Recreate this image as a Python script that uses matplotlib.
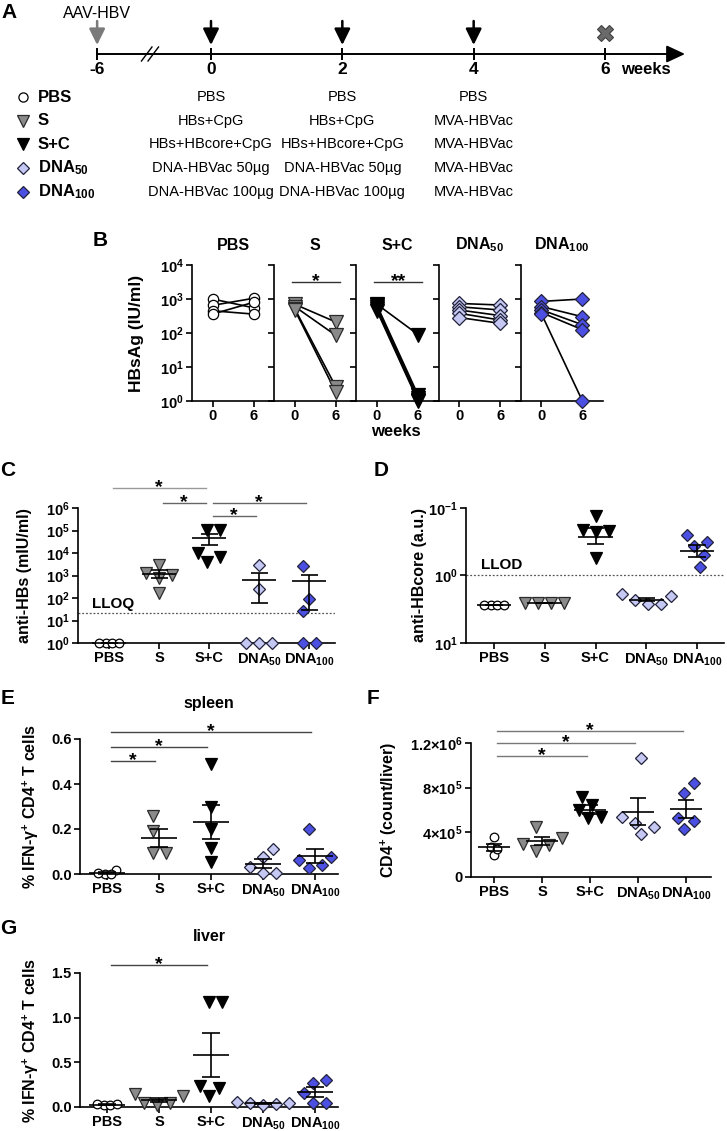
import numpy as np
import matplotlib
matplotlib.use('Agg')
import matplotlib.pyplot as plt
import matplotlib.transforms as mtransforms

W, H = 727, 1131

plt.rcParams['font.family'] = ['Liberation Sans', 'DejaVu Sans']
plt.rcParams['font.weight'] = 'bold'
plt.rcParams['axes.labelweight'] = 'bold'
plt.rcParams['mathtext.fontset'] = 'custom'
plt.rcParams['mathtext.rm'] = 'Liberation Sans'
plt.rcParams['mathtext.bf'] = 'Liberation Sans:bold'
plt.rcParams['mathtext.it'] = 'Liberation Sans:italic'
plt.rcParams['mathtext.default'] = 'bf'

# ---------------- data ----------------
groups = ['PBS', 'S', 'S+C', 'DNA50', 'DNA100']
group_labels = ['PBS', 'S', 'S+C', r'DNA$_{\mathrm{50}}$', r'DNA$_{\mathrm{100}}$']
legend_labels = ['PBS', 'S', 'S+C', r'DNA$_{50}$', r'DNA$_{100}$']

# panel A: schedule
timeline_weeks = [-6, 0, 2, 4, 6]
aav_week = -6
boost_weeks = [0, 2, 4]
end_week = 6
sched_week0 = ['PBS', 'HBs+CpG', 'HBs+HBcore+CpG', 'DNA-HBVac 50µg', 'DNA-HBVac 100µg']
sched_week2 = ['PBS', 'HBs+CpG', 'HBs+HBcore+CpG', 'DNA-HBVac 50µg', 'DNA-HBVac 100µg']
sched_week4 = ['PBS', 'MVA-HBVac', 'MVA-HBVac', 'MVA-HBVac', 'MVA-HBVac']

# panel B: HBsAg (IU/ml), week 0 and week 6, per mouse
hbsag_weeks = [0, 6]
hbsag_w0 = [[1000, 650, 450, 360],
            [700, 600, 520, 480],
            [700, 650, 600, 500, 450],
            [740, 590, 475, 380, 285],
            [850, 600, 480, 400, 370]]
hbsag_w6 = [[550, 1050, 360, 800],
            [210, 85, 2.6, 1.8],
            [90, 1.5, 1.2, 1.1, 1.0],
            [665, 475, 325, 240, 192],
            [1000, 300, 175, 125, 1.0]]

# panel C: anti-HBs (mIU/ml)
anti_hbs = [[1, 1, 1, 1],
            [1050, 2900, 1250, 740, 160],
            [110000, 105000, 9700, 6900, 4100],
            [3000, 250, 1, 1, 1],
            [2700, 89, 27, 1, 1]]
lloq = 22

# panel D: anti-HBcore (a.u.)
anti_hbcore = [[2.7, 2.7, 2.7, 2.7],
               [2.55, 2.55, 2.55, 2.55],
               [0.13, 0.21, 0.23, 0.22, 0.55],
               [2.6, 1.9, 2.0, 2.6, 2.3],
               [0.25, 0.37, 0.32, 0.50, 0.76]]
llod = 1.0

# panel E: % IFN-g+ CD4+ T cells, spleen
ifn_spleen = [[0.0, 0.018, 0.005, 0.0],
              [0.256, 0.19, 0.092, 0.095],
              [0.49, 0.30, 0.20, 0.115, 0.055],
              [0.111, 0.077, 0.033, 0.003, 0.006],
              [0.20, 0.077, 0.025, 0.04, 0.062]]

# panel F: CD4+ count per liver
cd4_liver = [[200000, 265000, 355000, 250000],
             [345000, 450000, 235000, 300000, 290000],
             [718000, 645000, 600000, 525000, 534000],
             [1063000, 539000, 486000, 450000, 385000],
             [839000, 750000, 525000, 504000, 427000]]

# panel G: % IFN-g+ CD4+ T cells, liver
ifn_liver = [[0.02, 0.03, 0.025, 0.03],
             [0.15, 0.12, 0.05, 0.02, 0.04],
             [1.18, 1.18, 0.23, 0.21, 0.12],
             [0.06, 0.05, 0.04, 0.03, 0.02],
             [0.306, 0.269, 0.157, 0.045, 0.045]]

# significance pairs (group index pairs)
sig_c = [(0, 2), (1, 2), (2, 4), (2, 3)]
sig_e = [(0, 1), (0, 2), (0, 4)]
sig_f = [(0, 2), (0, 3), (0, 4)]
sig_g = [(0, 2)]

# ---------------- styles ----------------
markers = ['o', 'v', 'v', 'D', 'D']
faces = ['white', '#8a8a8a', 'black', '#c5c8f3', '#4c50e2']
edges = ['black', '#2b2b2b', 'black', '#22223a', '#22223a']
msz = [6.2, 8.2, 8.2, 6.0, 6.0]
steps = [6.5, 13, 13, 13, 13]

fig = plt.figure(figsize=(W / 100, H / 100), dpi=100)


def px_axes(l, t, r, b):
    return fig.add_axes([l / W, 1 - b / H, (r - l) / W, (b - t) / H])


def style_axes(ax):
    for s in ['top', 'right']:
        ax.spines[s].set_visible(False)
    for s in ['left', 'bottom']:
        ax.spines[s].set_linewidth(1.2)
    ax.tick_params(direction='out', length=4, width=1.2, labelsize=10.5, pad=2)


def swarm_x(ax, x0, vals, step):
    # greedy beeswarm in pixel space, then centred on the category
    vals = np.asarray(vals, float)
    ys = ax.transData.transform(np.column_stack([np.full(len(vals), x0), vals]))[:, 1]
    cand = [0.0]
    for k in range(1, 40):
        cand += [k * step / 4, -k * step / 4]
    off = np.zeros(len(vals))
    placed = []
    for k in np.argsort(ys):
        for c in cand:
            if all((c - px) ** 2 + (ys[k] - py) ** 2 >= (0.95 * step) ** 2 for px, py in placed):
                off[k] = c
                break
        placed.append((off[k], ys[k]))
    off -= (off.max() + off.min()) / 2
    scale = ax.transData.transform((1, 1))[0] - ax.transData.transform((0, 1))[0]
    return x0 + off / scale


def dot_panel(ax, data):
    for i, vals in enumerate(data):
        xs = swarm_x(ax, i, vals, steps[i])
        ax.plot(xs, vals, ls='none', marker=markers[i], ms=msz[i], mfc=faces[i],
                mec=edges[i], mew=0.9, clip_on=False, zorder=3)
        m = np.mean(vals)
        se = np.std(vals, ddof=1) / np.sqrt(len(vals))
        kw = dict(color='black', lw=1.2, zorder=4, clip_on=False, solid_capstyle='butt')
        ax.plot([i - 0.34, i + 0.34], [m, m], **kw)
        lo = m - se if m - se > 0 or ax.get_yscale() == 'linear' else m
        ax.plot([i, i], [lo, m + se], **kw)
        ax.plot([i - 0.17, i + 0.17], [m + se, m + se], **kw)
        ax.plot([i - 0.17, i + 0.17], [lo, lo], **kw)
    ax.set_xticks(range(len(data)), group_labels)


def sig_bar(ax, i, j, level, color='#555555', inset=0.07):
    trans = mtransforms.blended_transform_factory(ax.transData, ax.transAxes)
    ax.plot([i + inset, j - inset], [level, level], color=color, lw=1.0,
            transform=trans, clip_on=False)
    ax.text((i + j) / 2, level, '*', transform=trans, ha='center', va='center',
            fontsize=14, fontweight='bold', clip_on=False)


def log_labels(ax, exps):
    ticks = [10.0 ** e for e in exps]
    labels = ['10$^{%d}$' % e for e in exps]
    ax.set_yticks(ticks, labels)
    ax.minorticks_off()


# ---------------- panel A ----------------
ax_a = px_axes(0, 0, W, 275)
ax_a.set_axis_off()
ppw = (605 - 211) / 6.0
ax_a.set_xlim(-211 / ppw, (W - 211) / ppw)
ax_a.set_ylim(275, 0)


def tl(w):
    # broken time axis: the weeks before 0 are compressed
    return w if w >= 0 else w * 0.289


def wx(px):
    return (px - 211) / ppw


ax_a.annotate('', xy=(wx(685), 54), xytext=(tl(-6), 54),
              arrowprops=dict(arrowstyle='-|>,head_length=0.75,head_width=0.35', color='black',
                              lw=1.4, mutation_scale=15, shrinkA=0, shrinkB=0))
ax_a.vlines([tl(w) for w in timeline_weeks], 48, 60, color='black', lw=1.4)
xb = wx(150)
for d in (-0.05, 0.05):
    ax_a.plot([xb + d - 0.08, xb + d + 0.08], [61, 47], color='black', lw=1.0)
for w in timeline_weeks:
    ax_a.text(tl(w), 70, str(w), ha='center', va='center', fontsize=12.5, fontweight='bold')
ax_a.text(wx(646), 70, 'weeks', ha='center', va='center', fontsize=12, fontweight='bold')
ax_a.text(tl(aav_week), 14, 'AAV-HBV', ha='center', va='center', fontsize=11.5,
          fontweight='normal')
ax_a.annotate('', xy=(tl(aav_week), 45), xytext=(tl(aav_week), 21),
              arrowprops=dict(arrowstyle='-|>,head_length=0.65,head_width=0.32', color='#7a7a7a',
                              lw=1.8, mutation_scale=15, shrinkA=0, shrinkB=0))
for w in boost_weeks:
    ax_a.annotate('', xy=(tl(w), 45), xytext=(tl(w), 21),
                  arrowprops=dict(arrowstyle='-|>,head_length=0.65,head_width=0.32', color='black',
                                  lw=1.8, mutation_scale=15, shrinkA=0, shrinkB=0))
ax_a.plot(tl(end_week), 33, marker='X', ms=11, mfc='#6a6a6a', mec='#404040', mew=0.8)

row_y = [97 + 23.7 * k for k in range(5)]
for k in range(5):
    ax_a.plot(wx(23), row_y[k], ls='none', marker=markers[k], ms=msz[k] + 0.4,
              mfc=faces[k], mec=edges[k], mew=0.9)
    ax_a.text(wx(38), row_y[k], legend_labels[k], ha='left', va='center', fontsize=12,
              fontweight='bold')
    for w, col in zip(boost_weeks, [sched_week0, sched_week2, sched_week4]):
        ax_a.text(tl(w), row_y[k], col[k], ha='center', va='center', fontsize=10.5,
                  fontweight='normal')

# ---------------- panel B ----------------
bw = 82.2
for i in range(5):
    l = 192 + i * bw
    ax = px_axes(l, 265, l + bw, 401)
    style_axes(ax)
    ax.set_yscale('log')
    ax.set_ylim(1, 1e4)
    ax.set_xlim(-3, 9)
    for a, b in zip(hbsag_w0[i], hbsag_w6[i]):
        ax.plot(hbsag_weeks, [a, b], color='black', lw=1.2, zorder=2, clip_on=False)
    for w, vals in zip(hbsag_weeks, [hbsag_w0[i], hbsag_w6[i]]):
        ax.plot([w] * len(vals), vals, ls='none', marker=markers[i], ms=msz[i] + 1.2,
                mfc=faces[i], mec=edges[i], mew=0.9, clip_on=False, zorder=3)
    log_labels(ax, range(0, 5))
    if i > 0:
        ax.tick_params(axis='y', labelleft=False)
    else:
        ax.set_ylabel('HBsAg (IU/ml)', fontsize=12.5)
        ax.yaxis.set_label_coords(-0.58, 0.5)
    ax.set_xticks(hbsag_weeks, [str(w) for w in hbsag_weeks])
    ax.text(0.5, 1.147, legend_labels[i], transform=ax.transAxes, ha='center',
            va='center', fontsize=11.5)
    if groups[i] in ('S', 'S+C'):
        ax.plot([-0.4, 6.6], [3200, 3200], color='#333333', lw=1.0)
        ax.text(3.1, 3200, '*' if groups[i] == 'S' else '**', ha='center', va='center',
                fontsize=14)
fig.text(396 / W, 1 - 432 / H, 'weeks', ha='center', va='center', fontsize=12)

# ---------------- panel C ----------------
ax = px_axes(78, 508, 335, 643)
style_axes(ax)
ax.set_yscale('log')
ax.set_ylim(1, 1e6)
ax.set_xlim(-0.62, 4.52)
log_labels(ax, range(0, 7))
ax.axhline(lloq, color='#555555', lw=0.9, ls=(0, (1.5, 1.5)), zorder=1)
ax.text(0.054, lloq * 1.25, 'LLOQ', transform=mtransforms.blended_transform_factory(
    ax.transAxes, ax.transData), ha='left', va='bottom', fontsize=11)
dot_panel(ax, anti_hbs)
ax.set_ylabel('anti-HBs (mIU/ml)', fontsize=11.5)
ax.yaxis.set_label_coords(-0.18, 0.5)
for (i, j), lev, c in zip(sig_c, [1.148, 1.037, 1.037, 0.941],
                          ['#999999', '#666666', '#666666', '#666666']):
    sig_bar(ax, i, j, lev, c)

# ---------------- panel D ----------------
ax = px_axes(466, 508, 724, 643)
style_axes(ax)
ax.set_yscale('log')
ax.set_ylim(10, 0.1)
ax.set_xlim(-0.55, 4.53)
log_labels(ax, [-1, 0, 1])
ax.axhline(llod, color='#555555', lw=0.9, ls=(0, (1.5, 1.5)), zorder=1)
ax.text(0.06, llod * 0.9, 'LLOD', transform=mtransforms.blended_transform_factory(
    ax.transAxes, ax.transData), ha='left', va='bottom', fontsize=11)
dot_panel(ax, anti_hbcore)
ax.set_ylabel('anti-HBcore (a.u.)', fontsize=11.5)
ax.yaxis.set_label_coords(-0.15, 0.5)

# ---------------- panel E ----------------
ax = px_axes(80, 739, 338, 874)
style_axes(ax)
ax.set_ylim(0, 0.6)
ax.set_xlim(-0.52, 4.44)
ax.set_yticks([0, 0.2, 0.4, 0.6], ['0.0', '0.2', '0.4', '0.6'])
dot_panel(ax, ifn_spleen)
ax.set_ylabel('% IFN-γ$^{+}$ CD4$^{+}$ T cells', fontsize=11.5)
ax.yaxis.set_label_coords(-0.15, 0.5)
ax.text(0.5, 1.26, 'spleen', transform=ax.transAxes, ha='center', va='center', fontsize=11.5)
for (i, j), lev in zip(sig_e, [0.837, 0.941, 1.052]):
    sig_bar(ax, i, j, lev, '#444444')

# ---------------- panel F ----------------
ax = px_axes(471, 743, 711, 877)
style_axes(ax)
ax.set_ylim(0, 1.2e6)
ax.set_xlim(-0.48, 4.52)
ax.set_yticks([0, 4e5, 8e5, 1.2e6], ['0', '4×10$^{5}$', '8×10$^{5}$', '1.2×10$^{6}$'])
dot_panel(ax, cd4_liver)
ax.set_ylabel('CD4$^{+}$ (count/liver)', fontsize=11.5)
ax.yaxis.set_label_coords(-0.30, 0.5)
for (i, j), lev in zip(sig_f, [0.903, 1.0, 1.09]):
    sig_bar(ax, i, j, lev, '#777777')

# ---------------- panel G ----------------
ax = px_axes(80, 973, 338, 1107)
style_axes(ax)
ax.set_ylim(0, 1.5)
ax.set_xlim(-0.52, 4.44)
ax.set_yticks([0, 0.5, 1.0, 1.5], ['0.0', '0.5', '1.0', '1.5'])
dot_panel(ax, ifn_liver)
ax.set_ylabel('% IFN-γ$^{+}$ CD4$^{+}$ T cells', fontsize=11.5)
ax.yaxis.set_label_coords(-0.15, 0.5)
ax.text(0.5, 1.27, 'liver', transform=ax.transAxes, ha='center', va='center', fontsize=11.5)
for (i, j), lev in zip(sig_g, [1.06]):
    sig_bar(ax, i, j, lev, '#444444')

# panel letters
for letter, (x, y) in zip('ABCDEFG', [(9, 13), (100, 240), (8, 471), (381, 471),
                                      (8, 698), (373, 698), (8, 928)]):
    fig.text(x / W, 1 - y / H, letter, ha='center', va='center', fontsize=15, fontweight='bold')

fig.savefig('out.png', dpi=100)
